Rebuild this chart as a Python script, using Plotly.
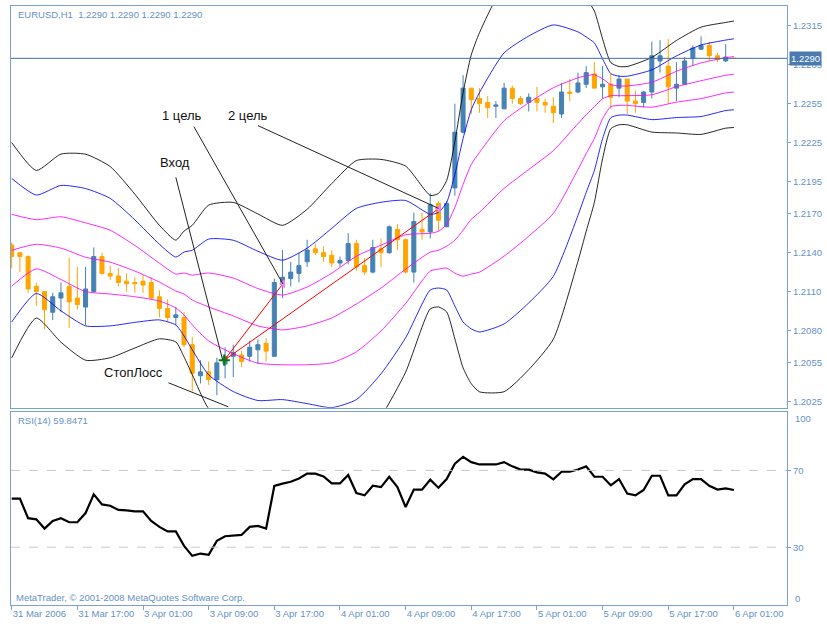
import plotly.graph_objects as go

# EURUSD H1, 31 Mar 2006 09:00 .. 6 Apr 2006 01:00, one value per hourly bar
opens = [1.2146, 1.2140, 1.2137, 1.2114, 1.2110, 1.2094, 1.2105, 1.2114, 1.2105, 1.2098,
         1.2110, 1.2137, 1.2124, 1.2122, 1.2118, 1.2117, 1.2118, 1.2117, 1.2106, 1.2097,
         1.2090, 1.2090, 1.2069, 1.2045, 1.2048, 1.2042, 1.2054, 1.2060, 1.2061, 1.2060,
         1.2065, 1.2070, 1.2060, 1.2117, 1.2120, 1.2124, 1.2133, 1.2143, 1.2140, 1.2138,
         1.2132, 1.2134, 1.2147, 1.2130, 1.2125, 1.2143, 1.2140, 1.2158, 1.2150, 1.2125,
         1.2158, 1.2156, 1.2178, 1.2160, 1.2190, 1.2233, 1.2267, 1.2259, 1.2256, 1.2253,
         1.2251, 1.2267, 1.2259, 1.2256, 1.2259, 1.2256, 1.2253, 1.2247, 1.2264, 1.2264,
         1.2270, 1.2278, 1.2268, 1.2270, 1.2267, 1.2274, 1.2257, 1.2256, 1.2264, 1.2288,
         1.2284, 1.2267, 1.2270, 1.2290, 1.2297, 1.2300, 1.2292, 1.2288, 1.2290]
highs = [1.2148, 1.2140, 1.2138, 1.2117, 1.2110, 1.2109, 1.2117, 1.2136, 1.2129, 1.2129,
         1.2144, 1.2140, 1.2130, 1.2128, 1.2124, 1.2121, 1.2123, 1.2121, 1.2111, 1.2104,
         1.2098, 1.2094, 1.2075, 1.2057, 1.2056, 1.2059, 1.2067, 1.2069, 1.2064, 1.2072,
         1.2073, 1.2074, 1.2120, 1.2142, 1.2133, 1.2140, 1.2150, 1.2147, 1.2145, 1.2142,
         1.2137, 1.2155, 1.2150, 1.2136, 1.2150, 1.2151, 1.2161, 1.2162, 1.2151, 1.2171,
         1.2171, 1.2186, 1.2180, 1.2180, 1.2255, 1.2277, 1.2267, 1.2267, 1.2261, 1.2257,
         1.2271, 1.2269, 1.2261, 1.2263, 1.2268, 1.2259, 1.2260, 1.2271, 1.2274, 1.2279,
         1.2284, 1.2287, 1.2284, 1.2278, 1.2277, 1.2274, 1.2265, 1.2265, 1.2303, 1.2304,
         1.2305, 1.2287, 1.2291, 1.2300, 1.2307, 1.2303, 1.2294, 1.2301, 1.2290]
lows = [1.2128, 1.2125, 1.2109, 1.2099, 1.2081, 1.2088, 1.2094, 1.2082, 1.2096, 1.2084,
        1.2109, 1.2123, 1.2119, 1.2114, 1.2110, 1.2109, 1.2109, 1.2104, 1.2090, 1.2087,
        1.2084, 1.2067, 1.2033, 1.2039, 1.2038, 1.2030, 1.2043, 1.2044, 1.2052, 1.2056,
        1.2054, 1.2056, 1.2060, 1.2105, 1.2114, 1.2117, 1.2129, 1.2138, 1.2133, 1.2129,
        1.2129, 1.2131, 1.2126, 1.2123, 1.2124, 1.2129, 1.2139, 1.2142, 1.2124, 1.2117,
        1.2150, 1.2151, 1.2157, 1.2160, 1.2184, 1.2232, 1.2247, 1.2248, 1.2244, 1.2244,
        1.2251, 1.2255, 1.2254, 1.2249, 1.2249, 1.2248, 1.2240, 1.2244, 1.2257, 1.2263,
        1.2267, 1.2267, 1.2259, 1.2251, 1.2260, 1.2247, 1.2248, 1.2252, 1.2259, 1.2279,
        1.2255, 1.2257, 1.2270, 1.2284, 1.2297, 1.2288, 1.2287, 1.2287, 1.2290]
closes = [1.2137, 1.2137, 1.2112, 1.2110, 1.2096, 1.2106, 1.2109, 1.2102, 1.2100, 1.2112,
          1.2137, 1.2124, 1.2122, 1.2117, 1.2116, 1.2116, 1.2115, 1.2105, 1.2097, 1.2090,
          1.2092, 1.2069, 1.2047, 1.2048, 1.2042, 1.2055, 1.2060, 1.2063, 1.2056, 1.2067,
          1.2069, 1.2064, 1.2117, 1.2121, 1.2125, 1.2130, 1.2142, 1.2140, 1.2137, 1.2132,
          1.2134, 1.2147, 1.2129, 1.2125, 1.2144, 1.2140, 1.2160, 1.2150, 1.2125, 1.2164,
          1.2156, 1.2177, 1.2165, 1.2178, 1.2233, 1.2267, 1.2258, 1.2255, 1.2252, 1.2254,
          1.2267, 1.2259, 1.2255, 1.2260, 1.2256, 1.2254, 1.2248, 1.2264, 1.2263, 1.2271,
          1.2279, 1.2267, 1.2270, 1.2260, 1.2274, 1.2257, 1.2255, 1.2264, 1.2292, 1.2292,
          1.2268, 1.2270, 1.2288, 1.2298, 1.2300, 1.2292, 1.2289, 1.2291, 1.2290]
rsi14 = [55.3, 55.3, 45.1, 44.5, 39.7, 43.7, 45.1, 43.0, 43.0, 47.8,
         57.5, 52.3, 51.6, 49.4, 49.2, 48.7, 48.7, 43.7, 40.6, 38.2,
         38.2, 30.7, 25.5, 26.7, 26.0, 33.3, 35.7, 36.2, 36.4, 40.6,
         41.1, 39.7, 61.9, 63.1, 64.1, 65.8, 68.3, 68.3, 66.9, 63.2,
         63.2, 67.6, 58.2, 57.0, 62.0, 61.3, 66.7, 61.3, 50.9, 60.0,
         60.0, 65.2, 61.0, 65.5, 73.5, 77.1, 74.3, 73.1, 73.1, 73.1,
         74.3, 72.1, 70.4, 70.4, 69.0, 68.3, 65.3, 69.3, 69.3, 70.5,
         72.1, 66.7, 66.7, 62.2, 65.5, 57.9, 57.0, 59.8, 67.2, 67.2,
         57.0, 57.0, 62.7, 65.5, 65.5, 62.0, 60.0, 60.6, 59.8]
bars = list(range(len(closes)))

# Bollinger bands at these bars (1, 2 and 3 deviations)
bb_bars = [0, 3, 6, 9, 12, 15, 18, 20, 21, 22, 24, 27, 30, 33, 36, 39, 42, 45, 48, 51,
           52, 53, 54, 55, 56, 57, 60, 63, 66, 69, 70, 71, 72, 73, 74, 75, 78, 81, 84, 87, 88]
bb_up3 = [1.22250, 1.22035, 1.22161, 1.22160, 1.22065, 1.21852, 1.21611, 1.21497, 1.21567, 1.21611,
          1.21767, 1.21788, 1.21699, 1.21611, 1.21735, 1.21934, 1.22111, 1.22120, 1.22068, 1.21842,
          1.21857, 1.21957, 1.22258, 1.22635, 1.22927, 1.23098, 1.23465, 1.23587, 1.23643, 1.23458,
          1.23365, 1.23265, 1.23050, 1.22867, 1.22837, 1.22837, 1.22907, 1.23038, 1.23141, 1.23177, 1.23188]
bb_up2 = [1.21973, 1.21845, 1.21919, 1.21895, 1.21819, 1.21654, 1.21465, 1.21366, 1.21405, 1.21419,
          1.21505, 1.21496, 1.21411, 1.21342, 1.21435, 1.21588, 1.21742, 1.21789, 1.21803, 1.21696,
          1.21711, 1.21788, 1.22004, 1.22281, 1.22504, 1.22636, 1.22942, 1.23072, 1.23158, 1.23104,
          1.23065, 1.23019, 1.22896, 1.22782, 1.22762, 1.22762, 1.22811, 1.22919, 1.23003, 1.23041, 1.23051]
bb_up1 = [1.21696, 1.21655, 1.21677, 1.21630, 1.21573, 1.21456, 1.21319, 1.21235, 1.21243, 1.21227,
          1.21243, 1.21204, 1.21123, 1.21073, 1.21135, 1.21242, 1.21373, 1.21458, 1.21538, 1.21550,
          1.21565, 1.21619, 1.21750, 1.21927, 1.22081, 1.22174, 1.22419, 1.22557, 1.22673, 1.22750,
          1.22765, 1.22773, 1.22742, 1.22697, 1.22687, 1.22687, 1.22715, 1.22800, 1.22865, 1.22905, 1.22914]
bb_mid = [1.21419, 1.21465, 1.21435, 1.21365, 1.21327, 1.21258, 1.21173, 1.21104, 1.21081, 1.21035,
          1.20981, 1.20912, 1.20835, 1.20804, 1.20835, 1.20896, 1.21004, 1.21127, 1.21273, 1.21404,
          1.21419, 1.21450, 1.21496, 1.21573, 1.21658, 1.21712, 1.21896, 1.22042, 1.22188, 1.22396,
          1.22465, 1.22527, 1.22588, 1.22612, 1.22612, 1.22612, 1.22619, 1.22681, 1.22727, 1.22769, 1.22777]
bb_lo1 = [1.21142, 1.21275, 1.21193, 1.21100, 1.21081, 1.21060, 1.21027, 1.20973, 1.20919, 1.20843,
          1.20719, 1.20620, 1.20547, 1.20535, 1.20535, 1.20550, 1.20635, 1.20796, 1.21008, 1.21258,
          1.21273, 1.21281, 1.21242, 1.21219, 1.21235, 1.21250, 1.21373, 1.21527, 1.21703, 1.22042,
          1.22165, 1.22281, 1.22434, 1.22527, 1.22537, 1.22537, 1.22523, 1.22562, 1.22589, 1.22633, 1.22640]
bb_lo2 = [1.20865, 1.21085, 1.20951, 1.20835, 1.20835, 1.20862, 1.20881, 1.20842, 1.20757, 1.20651,
          1.20457, 1.20328, 1.20259, 1.20266, 1.20235, 1.20204, 1.20266, 1.20465, 1.20743, 1.21112,
          1.21127, 1.21112, 1.20988, 1.20865, 1.20812, 1.20788, 1.20850, 1.21012, 1.21218, 1.21688,
          1.21865, 1.22035, 1.22280, 1.22442, 1.22462, 1.22462, 1.22427, 1.22443, 1.22451, 1.22497, 1.22503]
bb_lo3 = [1.20588, 1.20895, 1.20709, 1.20570, 1.20589, 1.20664, 1.20735, 1.20711, 1.20595, 1.20459,
          1.20195, 1.20036, 1.19971, 1.19997, 1.19935, 1.19858, 1.19897, 1.20134, 1.20478, 1.20966,
          1.20981, 1.20943, 1.20734, 1.20511, 1.20389, 1.20326, 1.20327, 1.20497, 1.20733, 1.21334,
          1.21565, 1.21789, 1.22126, 1.22357, 1.22387, 1.22387, 1.22331, 1.22324, 1.22313, 1.22361, 1.22366]

time_ticks = [0, 8, 16, 24, 32, 40, 48, 56, 64, 72, 80, 88]
time_labels = ["31 Mar 2006", "31 Mar 17:00", "3 Apr 01:00", "3 Apr 09:00", "3 Apr 17:00",
               "4 Apr 01:00", "4 Apr 09:00", "4 Apr 17:00", "5 Apr 01:00", "5 Apr 09:00",
               "5 Apr 17:00", "6 Apr 01:00"]
price_ticks = [1.2315, 1.2285, 1.2255, 1.2225, 1.2195, 1.2170, 1.2140, 1.2110, 1.2080, 1.2055, 1.2025]
last_price = 1.2290
rsi_levels = [30, 70]

# trade drawn on the chart: entry, target 1, target 2, stop
entry = (25.9, 1.2057)
targets = [(33.05, 1.2116), (52.03, 1.2174)]
notes = [("1 цель", 20.8, 1.22458, 22.2, 1.22373, 33.05, 1.21158),
         ("2 цель", 28.8, 1.22458, 30.0, 1.22381, 52.0, 1.21742),
         ("Вход", 19.9, 1.22096, 20.0, 1.21981, 25.7, 1.20573),
         ("СтопЛосс", 14.9, 1.20473, 19.1, 1.20396, 26.4, 1.20210)]

BULL = "#4682B4"
BEAR = "#FFA500"
AXIS = "#7BA2CF"
TXT = "#6592C4"
FONT = "Liberation Sans"

fig = go.Figure()

bands = [(bb_up3, "#000000"), (bb_up2, "#0000FF"), (bb_up1, "#FF00FF"), (bb_mid, "#FF00FF"),
         (bb_lo1, "#FF00FF"), (bb_lo2, "#0000FF"), (bb_lo3, "#000000")]
for vals, col in bands:
    fig.add_trace(go.Scatter(x=bb_bars, y=vals, mode="lines", xaxis="x2", yaxis="y",
                             line=dict(color=col, width=1, shape="spline", smoothing=0.6),
                             opacity=0.85, hoverinfo="skip"))

fig.add_trace(go.Candlestick(
    x=bars, open=opens, high=highs, low=lows, close=closes, xaxis="x2", yaxis="y",
    increasing=dict(line=dict(color=BULL, width=1), fillcolor=BULL),
    decreasing=dict(line=dict(color=BEAR, width=1), fillcolor=BEAR),
    whiskerwidth=0, hoverinfo="skip"))

for tx, ty in targets:
    fig.add_trace(go.Scatter(x=[entry[0], tx], y=[entry[1], ty], mode="lines", xaxis="x2", yaxis="y",
                             line=dict(color="#FF0000", width=1), hoverinfo="skip"))
fig.add_trace(go.Scatter(x=[t[0] for t in targets], y=[t[1] for t in targets], mode="markers",
                         xaxis="x2", yaxis="y", hoverinfo="skip",
                         marker=dict(symbol="triangle-left", size=8, color="#EE82EE")))
fig.add_trace(go.Scatter(x=[entry[0]], y=[entry[1]], mode="markers", xaxis="x2", yaxis="y",
                         hoverinfo="skip",
                         marker=dict(symbol="cross-thin", size=8, line=dict(color="#008000", width=2))))

fig.add_trace(go.Scatter(x=bars, y=rsi14, mode="lines", xaxis="x", yaxis="y2",
                         line=dict(color="#000000", width=2.2), hoverinfo="skip"))

shapes = []
for lv in rsi_levels:
    shapes.append(dict(type="line", xref="x domain", yref="y2", x0=0, x1=1, y0=lv, y1=lv,
                       line=dict(color="#C8C8C8", width=1, dash="dash")))
shapes.append(dict(type="line", xref="x2 domain", yref="y", x0=0, x1=1, y0=last_price, y1=last_price,
                   line=dict(color="#3F6FA8", width=1)))
annotations = []
for text, lx, ly, x0, y0, x1, y1 in notes:
    shapes.append(dict(type="line", xref="x2", yref="y", x0=x0, y0=y0, x1=x1, y1=y1,
                       line=dict(color="#222222", width=1)))
    annotations.append(dict(x=lx, y=ly, xref="x2", yref="y", text=text, showarrow=False,
                            font=dict(family=FONT, size=13, color="#111111")))

small = dict(family=FONT, size=9.5, color=TXT)
annotations += [
    dict(x=0.0064, y=0.985, xref="paper", yref="paper", xanchor="left", yanchor="middle",
         text="EURUSD,H1\u00a0\u00a01.2290 1.2290 1.2290 1.2290", showarrow=False, font=small),
    dict(x=0.0064, y=0.3078, xref="paper", yref="paper", xanchor="left", yanchor="middle",
         text="RSI(14) 59.8471", showarrow=False, font=small),
    dict(x=0.004, y=0.0133, xref="paper", yref="paper", xanchor="left", yanchor="middle",
         text="MetaTrader, © 2001-2008 MetaQuotes Software Corp.", showarrow=False, font=small),
    dict(x=1.003, y=last_price, xref="paper", yref="y", xanchor="left", yanchor="middle",
         text="1.2290", showarrow=False, bgcolor="#4A7AB0", borderpad=1,
         font=dict(family=FONT, size=9.5, color="#FFFFFF")),
    dict(x=1.0, y=100, xref="paper", yref="y2", xanchor="left", yanchor="middle", xshift=6, yshift=-6,
         text="100", showarrow=False, font=small),
    dict(x=1.0, y=0, xref="paper", yref="y2", xanchor="left", yanchor="middle", xshift=6, yshift=6,
         text="0", showarrow=False, font=small),
]

fig.update_layout(
    width=827, height=624,
    margin=dict(l=11, r=34, t=5, b=18),
    paper_bgcolor="white", plot_bgcolor="white",
    showlegend=False, hovermode=False,
    shapes=shapes, annotations=annotations,
    xaxis=dict(domain=[0, 1], anchor="y2", range=[-0.085, 94.47],
               tickvals=time_ticks, ticktext=time_labels, ticks="outside", ticklen=4,
               tickcolor=AXIS, ticklabelposition="outside right", tickfont=small,
               showline=True, linecolor=AXIS, mirror=True, showgrid=False, zeroline=False,
               rangeslider=dict(visible=False)),
    xaxis2=dict(domain=[0, 1], anchor="y", matches="x", showticklabels=False,
                showline=True, linecolor=AXIS, mirror=True, showgrid=False, zeroline=False,
                rangeslider=dict(visible=False)),
    yaxis=dict(domain=[0.3295, 1], side="right", range=[1.20204, 1.23304],
               tickvals=price_ticks, ticktext=[f"{v:.4f}" for v in price_ticks],
               ticks="outside", ticklen=3,
               tickcolor=AXIS, tickfont=small, showline=True, linecolor=AXIS, mirror=True,
               showgrid=False, zeroline=False),
    yaxis2=dict(domain=[0, 0.3228], side="right", range=[-0.1, 100.6],
                tickvals=rsi_levels, ticks="outside", ticklen=3, tickcolor=AXIS, tickfont=small,
                showline=True, linecolor=AXIS, mirror=True, showgrid=False, zeroline=False),
)

# the page's default 8px body margin would shift the chart off the window
fig.write_html("out.html", config={"displayModeBar": False, "staticPlot": True},
               post_script="document.body.style.margin='0';document.body.style.overflow='hidden';")
